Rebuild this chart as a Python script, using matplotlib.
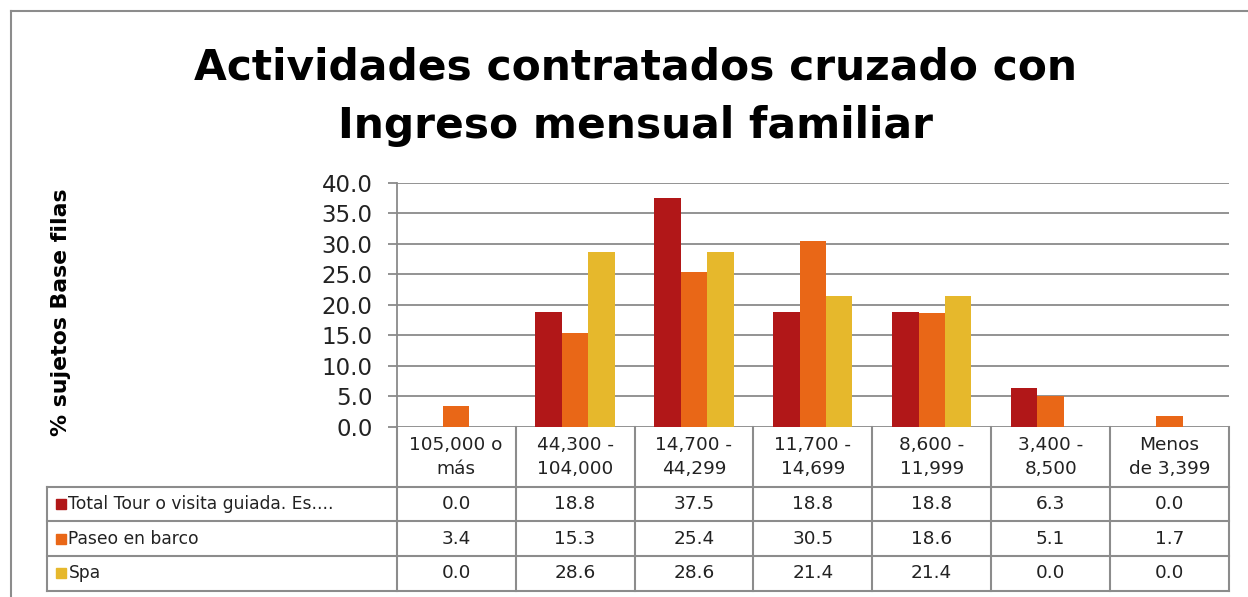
import matplotlib
matplotlib.use("Agg")
import matplotlib.pyplot as plt
from matplotlib.lines import Line2D
from matplotlib.transforms import blended_transform_factory

# data
categories = ["105,000 o\nmás", "44,300 -\n104,000", "14,700 -\n44,299", "11,700 -\n14,699",
              "8,600 -\n11,999", "3,400 -\n8,500", "Menos\nde 3,399"]
series_names = ["Total Tour o visita guiada. Es....", "Paseo en barco", "Spa"]
tour = [0.0, 18.8, 37.5, 18.8, 18.8, 6.3, 0.0]
barco = [3.4, 15.3, 25.4, 30.5, 18.6, 5.1, 1.7]
spa = [0.0, 28.6, 28.6, 21.4, 21.4, 0.0, 0.0]
colors = ["#B11718", "#E96717", "#E6B82C"]

W, H = 1248, 597
fig = plt.figure(figsize=(W / 100, H / 100), dpi=100)
plt.rcParams['font.family'] = ['DejaVu Sans']

# axes placed in pixel terms
left, right, top, bottom = 396.7, 1229, 182.7, 426.7
ax = fig.add_axes([left / W, 1 - bottom / H, (right - left) / W, (bottom - top) / H])

grid_c = "#8A8A8A"
n = len(categories)
bw = 0.222
all_series = [tour, barco, spa]
for i, vals in enumerate(all_series):
    xs = [k + (i - 1) * bw for k in range(n)]
    ax.bar(xs, vals, width=bw, color=colors[i], zorder=3)

ax.set_xlim(-0.5, n - 0.5)
ax.set_ylim(0, 40)
ax.set_yticks(range(0, 41, 5))
ax.set_yticklabels([f"{v:.1f}" for v in range(0, 41, 5)], fontsize=16.5, color="#222222")
ax.set_xticks([])
ax.yaxis.grid(True, color=grid_c, lw=1.3, zorder=0)
ax.tick_params(axis='y', length=6.5, width=1.3, color=grid_c, pad=11)
for s in ["top", "right", "bottom"]:
    ax.spines[s].set_visible(False)
ax.spines["left"].set_color(grid_c)
ax.spines["left"].set_linewidth(1.3)

# data table under the plot
tr = blended_transform_factory(ax.transData, ax.transAxes)
ah = bottom - top
hdr = -60 / ah
rh = 34.6 / ah
x_lab = -0.5 - (left - 47) / ((right - left) / n)
y_end = hdr - 3 * rh
tab_c = "#8C8C8C"

def tline(xs, ys):
    ax.add_line(Line2D(xs, ys, transform=tr, color=tab_c, lw=1.5, clip_on=False))

for k in range(n + 1):
    tline([k - 0.5, k - 0.5], [0, y_end])
tline([x_lab, x_lab], [hdr, y_end])
for r in range(4):
    y = hdr - r * rh
    tline([x_lab, n - 0.5], [y, y])

for k, lab in enumerate(categories):
    ax.text(k, hdr / 2, lab, transform=tr, ha="center", va="center", fontsize=13.3,
            linespacing=1.45, color="#222222")

for r, vals in enumerate(all_series):
    yc = hdr - (r + 0.5) * rh
    for k, v in enumerate(vals):
        ax.text(k, yc, f"{v:.1f}", transform=tr, ha="center", va="center", fontsize=13.3, color="#222222")
    ax.plot([x_lab + 0.115], [yc], marker="s", ms=7.2, color=colors[r], transform=tr, clip_on=False)
    ax.text(x_lab + 0.18, yc, series_names[r], transform=tr, ha="left", va="center",
            fontsize=12.3, color="#222222")

# titles
fig.text(636 / W, 1 - 80 / H, "Actividades contratados cruzado con", ha="center", va="baseline",
         fontsize=30.5, fontweight="bold")
fig.text(636 / W, 1 - 138 / H, "Ingreso mensual familiar", ha="center", va="baseline",
         fontsize=30.5, fontweight="bold")
fig.text(61 / W, 1 - 312 / H, "% sujetos Base filas", rotation=90, ha="center", va="center",
         fontsize=15.8, fontweight="bold")

# outer chart frame
fig.add_artist(Line2D([10.5 / W, 1], [1 - 11 / H, 1 - 11 / H], transform=fig.transFigure, color=tab_c, lw=1.5))
fig.add_artist(Line2D([10.5 / W, 10.5 / W], [0, 1 - 11 / H], transform=fig.transFigure, color=tab_c, lw=1.5))

fig.savefig("out.png", dpi=100)
